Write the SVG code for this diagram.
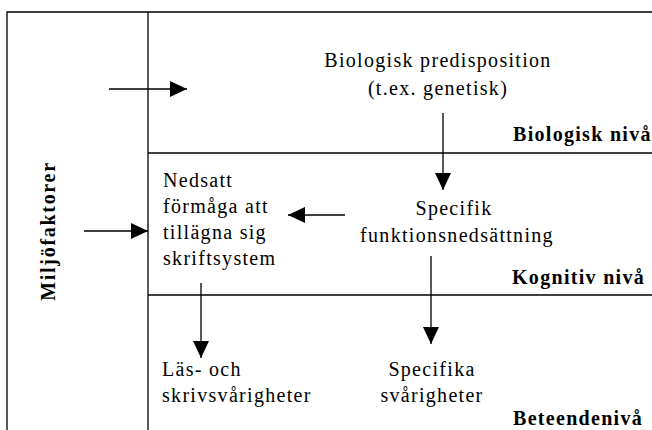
<svg xmlns="http://www.w3.org/2000/svg" width="652" height="430" viewBox="0 0 652 430">
  <defs>
    <marker id="head" viewBox="0 0 17 16" refX="17" refY="8" markerWidth="17" markerHeight="16" markerUnits="userSpaceOnUse" orient="auto">
      <path d="M0,0 L17,8 L0,16 Z" fill="#000"/>
    </marker>
    <style>
      .frame { stroke: #000; stroke-width: 1.3; fill: none; }
      .conn { stroke: #000; stroke-width: 1.3; fill: none; marker-end: url(#head); }
      text { font-family: "Liberation Serif", "Times New Roman", serif; font-size: 20px; letter-spacing: 1.3px; fill: #000; }
      .lvl { font-weight: bold; }
      .mid { text-anchor: middle; }
    </style>
  </defs>
  <rect width="652" height="430" fill="#fff"/>

  <!-- frame and level dividers -->
  <g id="frame">
    <path class="frame" d="M7,430 V12 H652"/>
    <path class="frame" d="M148,12 V430"/>
    <path class="frame" d="M148,153 H652"/>
    <path class="frame" d="M148,295 H652"/>
  </g>

  <g id="miljo">
    <text class="lvl mid" transform="translate(55,231) rotate(-90)" style="letter-spacing:1.7px">Miljöfaktorer</text>
  </g>

  <g id="biologisk-niva"><text class="lvl" x="513" y="141">Biologisk nivå</text></g>
  <g id="kognitiv-niva"><text class="lvl" x="512" y="284">Kognitiv nivå</text></g>
  <g id="beteende-niva"><text class="lvl" x="513" y="425">Beteendenivå</text></g>

  <g id="predisposition">
    <text class="mid" x="438" y="67">Biologisk predisposition</text>
    <text class="mid" x="438" y="95">(t.ex. genetisk)</text>
  </g>

  <g id="nedsatt">
    <text x="163" y="187">Nedsatt</text>
    <text x="163" y="213">förmåga att</text>
    <text x="163" y="239">tillägna sig</text>
    <text x="163" y="265">skriftsystem</text>
  </g>

  <g id="specifik">
    <text class="mid" x="454" y="215">Specifik</text>
    <text class="mid" x="457" y="242">funktionsnedsättning</text>
  </g>

  <g id="las-skriv">
    <text x="162" y="376">Läs- och</text>
    <text x="162" y="402">skrivsvårigheter</text>
  </g>

  <g id="specifika">
    <text class="mid" x="432" y="376">Specifika</text>
    <text class="mid" x="432" y="402">svårigheter</text>
  </g>

  <!-- connectors -->
  <g id="connectors">
    <line class="conn" x1="109" y1="89" x2="187" y2="89"/>
    <line class="conn" x1="443" y1="113" x2="443" y2="190"/>
    <line class="conn" x1="345" y1="215" x2="288" y2="215"/>
    <line class="conn" x1="84" y1="231" x2="148" y2="231"/>
    <line class="conn" x1="201" y1="283" x2="201" y2="358"/>
    <line class="conn" x1="431" y1="256" x2="431" y2="344"/>
  </g>
</svg>
